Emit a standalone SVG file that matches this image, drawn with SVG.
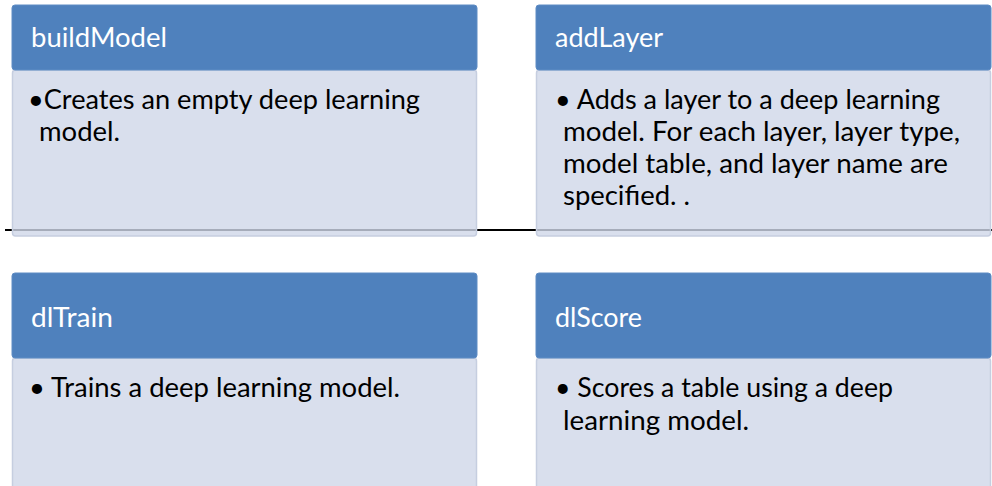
<svg xmlns="http://www.w3.org/2000/svg" width="992" height="486" viewBox="0 0 992 486">
  <style>
    .head { fill: #4F81BD; stroke: #5E8CC4; stroke-width: 1; }
    .body { fill: #CFD7E8; fill-opacity: 0.8; stroke: #C6CEE0; stroke-width: 1.5; }
    .title { font-family: "Lato", "Liberation Sans", sans-serif; font-size: 26px; fill: #FFFFFF; }
    .txt { font-family: "Lato", "Liberation Sans", sans-serif; font-size: 26px; fill: #000000; }
    .wire { stroke: #000000; stroke-width: 2; fill: none; }
  </style>

  <!-- connector line running behind the top row -->
  <g id="connectors">
    <line class="wire" x1="5" y1="230" x2="992" y2="230"/>
  </g>

  <g id="buildModel">
    <rect class="body" x="12.5" y="70" width="464" height="166" rx="3"/>
    <rect class="head" x="12" y="5" width="465" height="65" rx="3"/>
    <text class="title" x="31" y="47" textLength="136" lengthAdjust="spacingAndGlyphs">buildModel</text>
    <text class="txt" x="28" y="109" textLength="392" lengthAdjust="spacingAndGlyphs">•Creates an empty deep learning</text>
    <text class="txt" x="39" y="141" textLength="81" lengthAdjust="spacingAndGlyphs">model.</text>
  </g>

  <g id="addLayer">
    <rect class="body" x="536.5" y="70" width="454" height="166" rx="3"/>
    <rect class="head" x="536" y="5" width="455" height="65" rx="3"/>
    <text class="title" x="555" y="47" textLength="108" lengthAdjust="spacingAndGlyphs">addLayer</text>
    <text class="txt" x="555" y="109" textLength="385" lengthAdjust="spacingAndGlyphs">• Adds a layer to a deep learning</text>
    <text class="txt" x="563" y="141" textLength="397" lengthAdjust="spacingAndGlyphs">model. For each layer, layer type,</text>
    <text class="txt" x="563" y="173" textLength="385" lengthAdjust="spacingAndGlyphs">model table, and layer name are</text>
    <text class="txt" x="563" y="205" textLength="127" lengthAdjust="spacingAndGlyphs">specified. .</text>
  </g>

  <g id="dlTrain">
    <rect class="body" x="12.5" y="358" width="464" height="140" rx="3"/>
    <rect class="head" x="12" y="273" width="465" height="85" rx="3"/>
    <text class="title" x="31" y="327" textLength="82" lengthAdjust="spacingAndGlyphs">dlTrain</text>
    <text class="txt" x="29" y="397" textLength="371" lengthAdjust="spacingAndGlyphs">• Trains a deep learning model.</text>
  </g>

  <g id="dlScore">
    <rect class="body" x="536.5" y="358" width="454" height="140" rx="3"/>
    <rect class="head" x="536" y="273" width="455" height="85" rx="3"/>
    <text class="title" x="555" y="327" textLength="87" lengthAdjust="spacingAndGlyphs">dlScore</text>
    <text class="txt" x="555" y="397" textLength="338" lengthAdjust="spacingAndGlyphs">• Scores a table using a deep</text>
    <text class="txt" x="563" y="430" textLength="186" lengthAdjust="spacingAndGlyphs">learning model.</text>
  </g>
</svg>
